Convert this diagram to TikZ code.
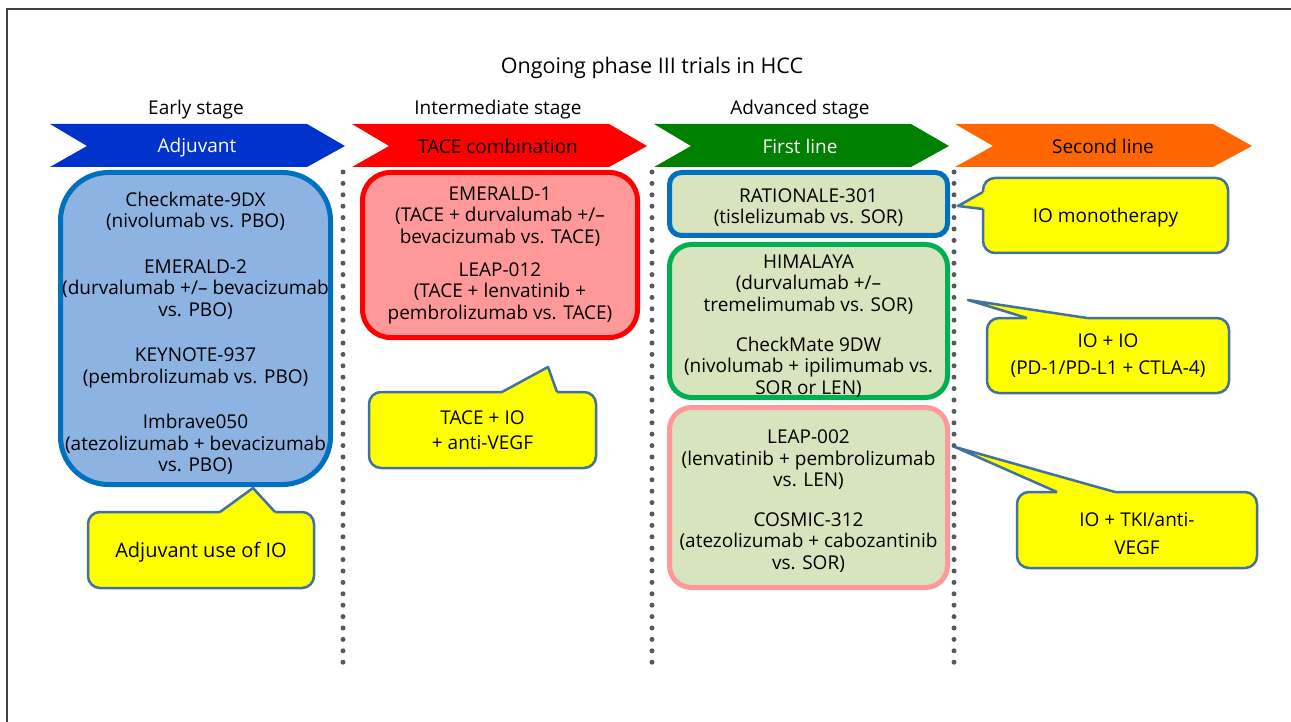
\documentclass[tikz,border=0pt]{standalone}
\usepackage{fontspec}
\setmainfont{Open Sans}
\usepackage{tikz}

\definecolor{chevblue}{RGB}{0,51,204}
\definecolor{chevred}{RGB}{255,0,0}
\definecolor{chevgreen}{RGB}{0,128,0}
\definecolor{chevorange}{RGB}{255,102,0}
\definecolor{dotgray}{RGB}{89,89,89}
\definecolor{framegray}{RGB}{64,64,64}
\definecolor{adjline}{RGB}{0,112,192}
\definecolor{adjfill}{RGB}{141,179,226}
\definecolor{tacefill}{RGB}{255,153,153}
\definecolor{olivefill}{RGB}{215,228,189}
\definecolor{himline}{RGB}{0,176,80}
\definecolor{bubblefill}{RGB}{255,255,0}
\definecolor{bubbleline}{RGB}{65,113,156}

\tikzset{
	trial/.style={draw, line width=5pt, align=center, inner sep=0pt},
	bubble/.style={draw=bubbleline, fill=bubblefill, line width=2.5pt, rounded corners=12pt, align=center, inner sep=0pt},
	tipline/.style={draw=bubbleline, line width=2.5pt, line join=round},
	dotline/.style={color=dotgray, line width=5pt, line cap=round, dash pattern=on 0pt off 11.4pt}
}

\begin{document}
\begin{tikzpicture}[x=1pt, y=-1pt, font=\fontsize{19}{21.5}\selectfont]
			\useasboundingbox (0,0) rectangle (1291,722);

			\draw [color=framegray, line width=1.5pt] (7,722) -- (7,9) -- (1291,9);

			\node [font=\fontsize{21.5}{24}\selectfont] (title) at (652,68) {Ongoing phase III trials in HCC};
			\node (early) at (196,110) {Early stage};
			\node (inter) at (498,110) {Intermediate stage};
			\node (adv) at (800,110) {Advanced stage};

			\fill [chevblue] (50,124) -- (307,124) -- (345,146) -- (307,167) -- (50,167) -- (87,146) -- cycle;
			\fill [chevred] (352,124) -- (609,124) -- (647,146) -- (609,167) -- (352,167) -- (389,146) -- cycle;
			\fill [chevgreen] (654,124) -- (911,124) -- (949,146) -- (911,167) -- (654,167) -- (691,146) -- cycle;
			\fill [chevorange] (955,124) -- (1213,124) -- (1252,146) -- (1213,167) -- (955,167) -- (993,146) -- cycle;

			\node [text=white] (adjuvant) at (197,148) {Adjuvant};
			\node (tacecomb) at (498,146) {TACE combination};
			\node [text=white] (first) at (800,146) {First line};
			\node (second) at (1103,146) {Second line};

			\draw [dotline] (343,172) -- (343,664);
			\draw [dotline] (652,172) -- (652,664);
			\draw [dotline] (954,172) -- (954,664);

			\node [trial, draw=adjline, fill=adjfill, rounded corners=48pt, minimum width=270pt, minimum height=312pt] (adj) at (195.5,328.5)
				{\rule{0pt}{24pt}Checkmate-9DX\\(nivolumab vs. PBO)\\[24pt]EMERALD-2\\(durvalumab +/– bevacizumab\\vs. PBO)\\[24pt]KEYNOTE-937\\(pembrolizumab vs. PBO)\\[24pt]Imbrave050\\(atezolizumab + bevacizumab\\vs. PBO)};
			\node [trial, draw=chevred, fill=tacefill, rounded corners=28pt, minimum width=275pt, minimum height=165pt] (tace) at (500,255)
				{EMERALD-1\\(TACE + durvalumab +/–\\bevacizumab vs. TACE)\\[11.5pt]LEAP-012\\(TACE + lenvatinib +\\pembrolizumab vs. TACE)};
			\node [trial, draw=adjline, fill=olivefill, rounded corners=12pt, minimum width=278pt, minimum height=63pt] (rat) at (808.5,204)
				{\rule{0pt}{21pt}RATIONALE-301\\(tislelizumab vs. SOR)};
			\node [trial, draw=himline, fill=olivefill, rounded corners=22pt, minimum width=278pt, minimum height=153pt] (him) at (808.5,321)
				{\rule{0pt}{24pt}HIMALAYA\\(durvalumab +/–\\tremelimumab vs. SOR)\\[18.5pt]CheckMate 9DW\\(nivolumab + ipilimumab vs.\\SOR or LEN)};
			\node [trial, draw=tacefill, fill=olivefill, rounded corners=22pt, minimum width=278pt, minimum height=180pt] (leap) at (808.5,497.5)
				{\rule{0pt}{21pt}LEAP-002\\(lenvatinib + pembrolizumab\\vs. LEN)\\[18.5pt]COSMIC-312\\(atezolizumab + cabozantinib\\vs. SOR)};

			\node [bubble, font=\fontsize{20}{22}\selectfont, minimum width=226pt, minimum height=76pt] (cadj) at (201,550) {\rule{0pt}{19pt}Adjuvant use of IO};
			\node [bubble, minimum width=227pt, minimum height=76pt] (ctace) at (482.5,430) {TACE + IO\\[3pt]+ anti-VEGF};
			\node [bubble, minimum width=245pt, minimum height=75pt] (cmono) at (1105.5,215.5) {\rule{0pt}{19pt}IO monotherapy};
			\node [bubble, minimum width=242pt, minimum height=75pt] (cdual) at (1108,355.5) {IO + IO\\[5pt](PD-1/PD-L1 + CTLA-4)};
			\node [bubble, minimum width=240pt, minimum height=76pt] (ctki) at (1137,530) {\rule{0pt}{22pt}IO + TKI/anti-\\[6.5pt]VEGF};

			\coordinate (tadj) at (253,488);
			\coordinate (ttace) at (548,367);
			\coordinate (tmono) at (958,206);
			\coordinate (tdual) at (968,300);
			\coordinate (ttki) at (955,447);

			\fill [bubblefill] (220,515) -- (220,512) -- (tadj) -- (275,512) -- (275,515) -- cycle;
			\draw [tipline] (220,512) -- (tadj) -- (275,512);
			\fill [bubblefill] (502,395) -- (502,392) -- (ttace) -- (557,392) -- (557,395) -- cycle;
			\draw [tipline] (502,392) -- (ttace) -- (557,392);
			\fill [bubblefill] (986,192) -- (983,192) -- (tmono) -- (983,209) -- (986,209) -- cycle;
			\draw [tipline] (983,192) -- (tmono) -- (983,209);
			\fill [bubblefill] (1027,321) -- (1027,318) -- (tdual) -- (1087,318) -- (1087,321) -- cycle;
			\draw [tipline] (1027,318) -- (tdual) -- (1087,318);
			\fill [bubblefill] (1057,495) -- (1057,492) -- (ttki) -- (1115,492) -- (1115,495) -- cycle;
			\draw [tipline] (1057,492) -- (ttki) -- (1115,492);

		\end{tikzpicture}
\end{document}
